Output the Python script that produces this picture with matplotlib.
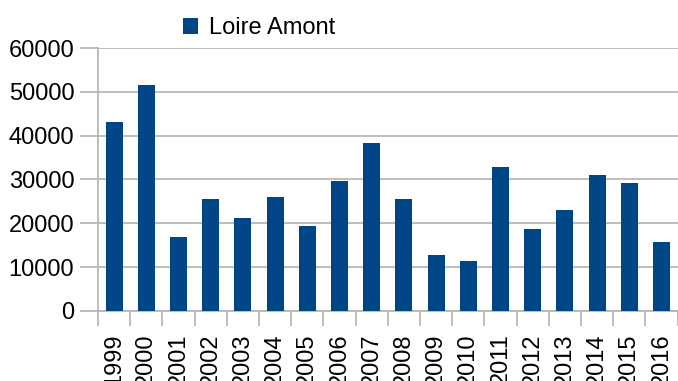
import numpy as np
import matplotlib.pyplot as plt
from matplotlib.ticker import FixedLocator

plt.rcParams['font.family'] = ['Liberation Sans', 'DejaVu Sans']

years = ['1999', '2000', '2001', '2002', '2003', '2004', '2005', '2006', '2007',
         '2008', '2009', '2010', '2011', '2012', '2013', '2014', '2015', '2016']
loire_amont = [43200, 51600, 16900, 25600, 21200, 26000, 19400, 29700, 38400,
               25600, 12800, 11400, 32900, 18700, 23100, 31100, 29200, 15800]

grid_col = '#b3b3b3'

fig = plt.figure(figsize=(6.78, 3.81), dpi=100)
ax = fig.add_axes([0.1445, 0.184, 0.855, 0.690])

x = np.arange(len(years))
ax.bar(x, loire_amont, width=0.53, color='#004586', label='Loire Amont', zorder=3)

ax.set_xlim(-0.5, len(years) - 0.5)
ax.set_ylim(0, 60000)
ax.set_yticks(np.arange(0, 60001, 10000))
ax.set_xticks(x)
ax.set_xticklabels(years, rotation=90, fontsize=17)
ax.xaxis.set_minor_locator(FixedLocator(np.arange(-0.5, len(years), 1.0)))

ax.tick_params(axis='y', labelsize=17, length=13, width=1.2, color=grid_col, pad=4)
ax.tick_params(axis='x', which='major', length=0, pad=16)
ax.tick_params(axis='x', which='minor', length=11, width=1.2, color=grid_col)

ax.grid(axis='y', color=grid_col, linewidth=1.2, zorder=0)
for side in ['top', 'right']:
    ax.spines[side].set_visible(False)
for side in ['left', 'bottom']:
    ax.spines[side].set_color(grid_col)
    ax.spines[side].set_linewidth(1.2)

fig.legend(loc='center', bbox_to_anchor=(0.382, 0.926), frameon=False, fontsize=17,
           handlelength=0.65, handleheight=0.65, handletextpad=0.45,
           borderpad=0, borderaxespad=0)

fig.savefig('out.png', dpi=100)
